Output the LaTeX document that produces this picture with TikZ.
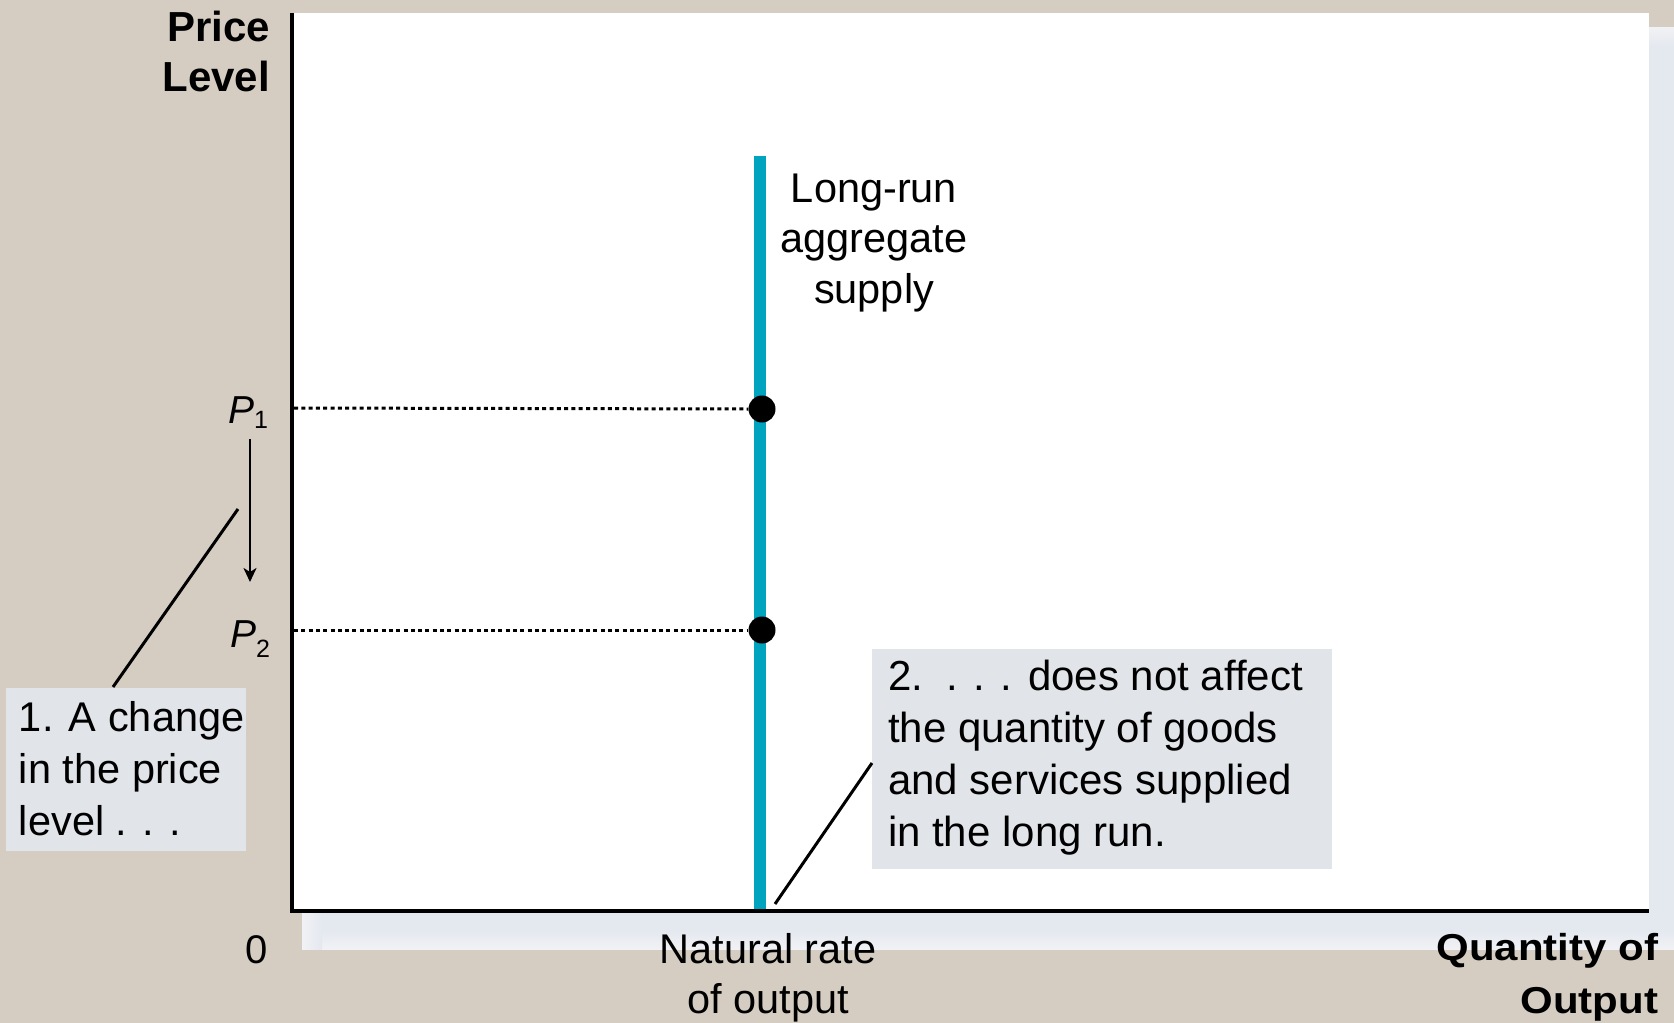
\documentclass[tikz,border=0pt]{standalone}
\usepackage{fontspec}
\setmainfont{Liberation Sans}
\usetikzlibrary{arrows.meta}
\definecolor{bgc}{HTML}{D5CDC2}
\definecolor{shadowc}{HTML}{E4E8EF}
\definecolor{shadowl}{HTML}{F1F2F5}
\definecolor{boxc}{HTML}{E1E4E9}
\definecolor{lrasc}{HTML}{00A4BE}
\newcommand\bodyfont{\fontsize{42}{52}\selectfont}
\begin{document}
\begin{tikzpicture}[x=1pt,y=-1pt,
  lbl/.style={inner sep=0pt, outer sep=0pt},
  graybox/.style={fill=boxc, draw=none, inner sep=0pt, outer sep=0pt, anchor=north west},
  leader/.style={line width=3pt, black},
  guide/.style={line width=3pt, dash pattern=on 4pt off 3.3pt, black},
  axisline/.style={line width=4pt, black},
  dotnode/.style={circle, fill=black, inner sep=0pt, minimum size=27pt},
]
\useasboundingbox (0,0) rectangle (1674,1023);
% background
\fill[bgc] (0,0) rectangle (1674,1023);
% shadow of the panel
\fill[shadowc] (302,27) rectangle (1674,949);
\shade[top color=shadowc, bottom color=shadowl] (302,930) rectangle (1674,949);
\shade[left color=shadowl, right color=shadowc] (302,912) rectangle (322,949);
\shade[top color=shadowl, bottom color=shadowc] (1649,27) rectangle (1674,47);
% white panel
\fill[white] (291,13) rectangle (1649,911);

% coordinates
\coordinate (origin) at (292,911);
\coordinate (ytop) at (292,13);
\coordinate (xend) at (1649,911);
\coordinate (lrtop) at (760,156);
\coordinate (lrbot) at (760,909);
\coordinate (p1ax) at (294,408);
\coordinate (p2ax) at (294,630);
\coordinate (arrA) at (250,439);
\coordinate (arrB) at (250,582);
\coordinate (l1a) at (238,509);
\coordinate (l1b) at (113,687);
\coordinate (l2a) at (775,904);
\coordinate (l2b) at (872,763);

% long-run aggregate supply
\draw[lrasc, line width=12pt] (lrtop) -- (lrbot);
\node[dotnode] (dot1) at (762,409) {};
\node[dotnode] (dot2) at (762,630) {};
\draw[guide] (p1ax) -- (dot1.west);
\draw[guide] (p2ax) -- (dot2.west);

% axes
\draw[axisline] (ytop) -- (origin |- 0,913);
\draw[axisline] (290,911) -- (xend);

% gray boxes
\node[graybox, minimum width=240pt, minimum height=163pt] (box1) at (6,688) {};
\node[graybox, minimum width=460pt, minimum height=220pt] (box2) at (872,649) {};

% leaders and arrow
\draw[leader] (l1a) -- (l1b);
\draw[leader] (l2a) -- (l2b);
\draw[line width=2.5pt, -{Stealth[length=14pt, width=13pt, inset=4pt]}] (arrA) -- (arrB);

% texts
\node[lbl, anchor=base east] (ylab) at (270,41)
  {\bfseries\fontsize{42}{50}\selectfont\begin{tabular}[t]{@{}r@{}}Price\\Level\end{tabular}};
\node[lbl, anchor=base east] (xlab) at (1658,960)
  {\scalebox{1.12}[1]{\bfseries\fontsize{37.5}{53}\selectfont\begin{tabular}[t]{@{}r@{}}Quantity of\\Output\end{tabular}}};
\node[lbl, anchor=base] (zero) at (257,963) {\fontsize{40}{48}\selectfont 0};
\node[lbl, anchor=base] (natural) at (768,963)
  {\fontsize{41.5}{50}\selectfont\begin{tabular}[t]{@{}c@{}}Natural rate\\of output\end{tabular}};
\node[lbl, anchor=base] (lraslab) at (874,202)
  {\fontsize{41.5}{50.5}\selectfont\begin{tabular}[t]{@{}c@{}}Long-run\\aggregate\\supply\end{tabular}};
\node[lbl, anchor=base west] (p1lab) at (228,423)
  {\fontsize{39}{45}\selectfont\itshape P\upshape\raisebox{-5pt}{\fontsize{25}{28}\selectfont 1}};
\node[lbl, anchor=base west] (p2lab) at (230,647)
  {\fontsize{39}{45}\selectfont\itshape P\upshape\raisebox{-10pt}{\fontsize{25}{28}\selectfont 2}};
\node[lbl, anchor=base west] (txt1) at (19,731)
  {\fontsize{41.5}{52}\selectfont\begin{tabular}[t]{@{}l@{}}1. A change\\in the price\\level . . .\end{tabular}};
\node[lbl, anchor=base west] (txt2) at (888,690)
  {\bodyfont\begin{tabular}[t]{@{}l@{}}2.\ \ . . . does not affect\\the quantity of goods\\and services supplied\\in the long run.\end{tabular}};
\end{tikzpicture}
\end{document}
